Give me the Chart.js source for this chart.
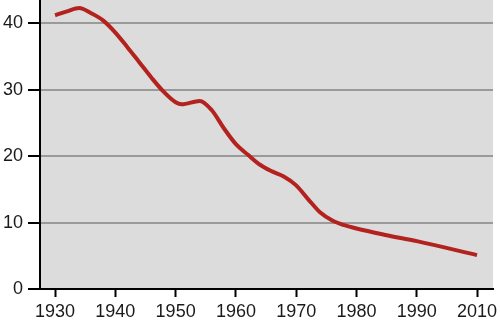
<!DOCTYPE html>
<html>
<head>
<meta charset="utf-8">
<script src="https://cdn.jsdelivr.net/npm/chart.js@4/dist/chart.umd.min.js"></script>
<style>
  body { margin: 0; background: #fff; }
  canvas { display: block; }
</style>
</head>
<body>
<canvas id="grafico" width="500" height="321"></canvas>
<script>
// Ejes: las etiquetas del eje x van a intervalos iguales (falta 2000)
const tickYears = [1930, 1940, 1950, 1960, 1970, 1980, 1990, 2010];
const yTicks = [0, 10, 20, 30, 40];

// Serie
const years = [1930, 1932, 1934, 1936, 1938, 1940, 1942, 1944, 1946, 1948,
               1950, 1951, 1954, 1956, 1958, 1960, 1962, 1964, 1966, 1968,
               1970, 1972, 1974, 1976, 1978, 1980, 1985, 1990, 2010];
const values = [41.2, 41.8, 42.3, 41.5, 40.4, 38.6, 36.4, 34.1, 31.8, 29.7,
                28.1, 27.8, 28.3, 26.9, 24.2, 21.8, 20.2, 18.7, 17.7, 16.9,
                15.6, 13.5, 11.5, 10.3, 9.6, 9.1, 8.1, 7.2, 5.1];

// año -> posición en el eje (índice de la etiqueta, interpolado)
function pos(year) {
  for (let i = 0; i < tickYears.length - 1; i++) {
    if (year <= tickYears[i + 1]) {
      return i + (year - tickYears[i]) / (tickYears[i + 1] - tickYears[i]);
    }
  }
  return tickYears.length - 1;
}

const puntos = years.map((y, i) => ({ x: pos(y), y: values[i] }));

const fondo = {
  id: "fondo",
  beforeDraw(chart) {
    const { ctx, chartArea: a } = chart;
    ctx.save();
    ctx.fillStyle = "#dcdcdc";
    ctx.fillRect(a.left, a.top, a.right - a.left, a.bottom - a.top);
    ctx.restore();
  },
};

const fuente = { family: "'Liberation Sans', Arial, sans-serif", size: 18 };

new Chart(document.getElementById("grafico").getContext("2d"), {
  type: "line",
  data: {
    datasets: [
      {
        data: puntos,
        borderColor: "#b3221e",
        borderWidth: 4,
        pointRadius: 0,
        fill: false,
        cubicInterpolationMode: "monotone",
      },
    ],
  },
  options: {
    responsive: false,
    animation: false,
    layout: { padding: { top: 0, right: 7, left: 0, bottom: 0 } },
    plugins: { legend: { display: false }, tooltip: { enabled: false } },
    scales: {
      x: {
        type: "linear",
        min: -0.25,
        max: 7.265,
        afterBuildTicks: (s) => { s.ticks = tickYears.map((_, i) => ({ value: i })); },
        afterFit: (s) => { s.height = 32; s.paddingLeft = 0; s.paddingRight = 0; },
        border: { color: "#000", width: 2 },
        grid: { drawOnChartArea: false, tickLength: 8, tickColor: "#000", tickWidth: 2 },
        ticks: {
          color: "#1a1a1a",
          font: fuente,
          padding: 4,
          maxRotation: 0,
          callback: (v) => String(tickYears[v]),
        },
      },
      y: {
        min: 0,
        max: 43.5,
        afterBuildTicks: (s) => { s.ticks = yTicks.map((v) => ({ value: v })); },
        afterFit: (s) => { s.width = 40; s.paddingTop = 0; s.paddingBottom = 0; },
        border: { color: "#000", width: 2 },
        grid: { color: "#9a9a9a", lineWidth: 2, tickLength: 12, tickColor: "#000", tickWidth: 2 },
        ticks: { color: "#1a1a1a", font: fuente, padding: 5 },
      },
    },
  },
  plugins: [fondo],
});
</script>
</body>
</html>
